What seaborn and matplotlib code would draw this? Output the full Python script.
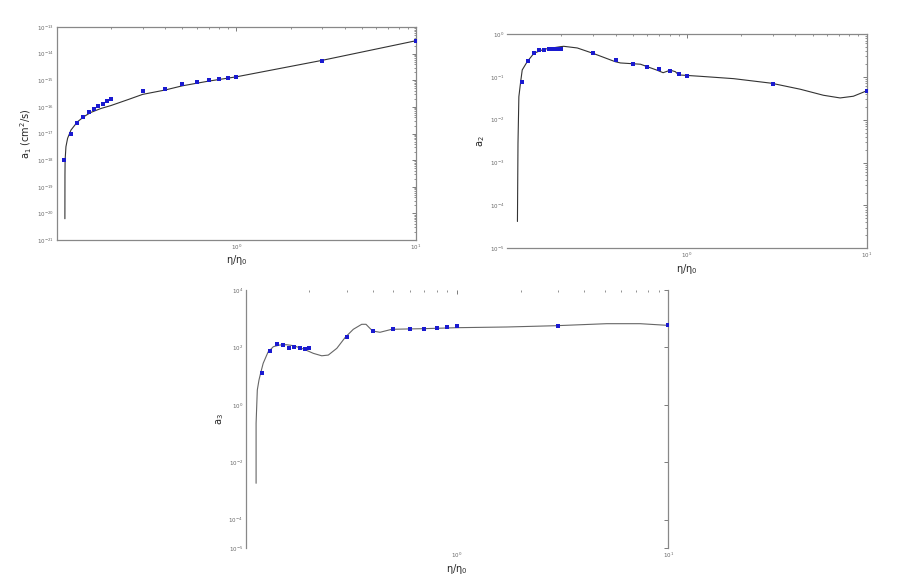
import numpy as np
import pandas as pd
import matplotlib
matplotlib.use("Agg")
import matplotlib.pyplot as plt
import seaborn as sns

# measured points (eta / eta0)
eta_a1 = [0.11, 0.12, 0.13, 0.14, 0.15, 0.16, 0.17, 0.18, 0.19, 0.20,
          0.3, 0.4, 0.5, 0.6, 0.7, 0.8, 0.9, 1.0, 3.0, 10.0]
a1_pts = [1.0e-18, 9.5e-18, 2.4e-17, 4.3e-17, 6.6e-17, 8.7e-17, 1.12e-16, 1.26e-16, 1.7e-16, 2.0e-16,
          3.8e-16, 4.9e-16, 7.1e-16, 8.9e-16, 1.0e-15, 1.15e-15, 1.26e-15, 1.38e-15, 5.5e-15, 3.0e-14]

eta_pts = [0.12, 0.13, 0.14, 0.15, 0.16, 0.17, 0.18, 0.19, 0.20,
           0.3, 0.4, 0.5, 0.6, 0.7, 0.8, 0.9, 1.0, 3.0, 10.0]
a2_pts = [0.076, 0.231, 0.367, 0.424, 0.424, 0.44, 0.44, 0.455, 0.44,
          0.355, 0.243, 0.203, 0.170, 0.150, 0.137, 0.117, 0.107, 0.0695, 0.0461]
a3_pts = [13.2, 75, 128, 121, 98, 100, 95.5, 90, 95.5,
          225, 382, 427, 449, 449, 474, 501, 543, 557, 589]

# fitted curves
eta_c1 = [0.1107, 0.1108, 0.111, 0.1122, 0.1146, 0.1197, 0.130, 0.142, 0.1545, 0.1756,
          0.1995, 0.25, 0.3, 0.4, 0.5, 0.7, 1.0, 3.0, 9.87]
a1_c = [6.3e-21, 2.8e-19, 1.0e-18, 3.2e-18, 6.6e-18, 1.35e-17, 2.75e-17, 4.4e-17, 6.2e-17, 8.7e-17,
        1.12e-16, 1.9e-16, 2.95e-16, 4.3e-16, 6.2e-16, 9.3e-16, 1.35e-15, 5.6e-15, 3.0e-14]

eta_c2 = [0.1138, 0.1146, 0.1159, 0.1186, 0.121, 0.129, 0.1406, 0.1596, 0.1977, 0.206,
          0.245, 0.299, 0.398, 0.426, 0.551, 0.6, 0.681, 0.736, 0.807, 0.861,
          0.898, 1.186, 1.816, 2.95, 4.27, 5.74, 7.11, 8.43, 9.86]
a2_c = [4.22e-5, 2.83e-3, 0.0345, 0.0773, 0.145, 0.226, 0.355, 0.44, 0.506, 0.516,
        0.472, 0.355, 0.226, 0.211, 0.197, 0.173, 0.143, 0.125, 0.143, 0.132,
        0.111, 0.103, 0.0908, 0.071, 0.0514, 0.0372, 0.0322, 0.0353, 0.0461]

eta_c3 = [0.112, 0.112, 0.1135, 0.1156, 0.1178, 0.121, 0.1276, 0.1352, 0.145, 0.156,
          0.168, 0.1875, 0.209, 0.229, 0.246, 0.27, 0.296, 0.323, 0.354, 0.371,
          0.387, 0.399, 0.432, 0.491, 0.578, 0.693, 0.997, 1.72, 2.94, 5.11,
          7.35, 9.82]
a3_c = [1.84e-3, 0.226, 3.28, 7.31, 13.1, 27.9, 69, 106, 121, 124,
        115, 88, 62, 51, 54, 93, 225, 427, 638, 638,
        463, 372, 336, 427, 438, 449, 486, 514, 570, 670,
        670, 589]

x_ticks = [1, 10]
y_ticks_a1 = [1e-21, 1e-20, 1e-19, 1e-18, 1e-17, 1e-16, 1e-15, 1e-14, 1e-13]
y_ticks_a2 = [1e-5, 1e-4, 1e-3, 1e-2, 1e-1, 1e0]
y_ticks_a3 = [1e-5, 1e-4, 1e-2, 1e0, 1e2, 1e4]

panels = [
    dict(rect=[0.0624, 0.5862, 0.3932, 0.3672], ex=eta_a1, ey=a1_pts, cx=eta_c1, cy=a1_c,
         ylim=(1e-21, 1e-13), yt=y_ticks_a1, ylabel=r"a$_1$ (cm$^2$/s)", hide=[], lc="#333333"),
    dict(rect=[0.5557, 0.5719, 0.3936, 0.3695], ex=eta_pts, ey=a2_pts, cx=eta_c2, cy=a2_c,
         ylim=(1e-5, 1e0), yt=y_ticks_a2, ylabel=r"a$_2$", hide=["left"], lc="#333333"),
    dict(rect=[0.2691, 0.0547, 0.4629, 0.4453], ex=eta_pts, ey=a3_pts, cx=eta_c3, cy=a3_c,
         ylim=(1e-5, 1e4), yt=y_ticks_a3, ylabel=r"a$_3$", hide=["top", "bottom"], lc="#666666"),
]

sns.set_theme(style="white")
plt.rcParams["font.family"] = ["DejaVu Sans"]

fig = plt.figure(figsize=(9.13, 5.8), dpi=100)

for p in panels:
    ax = fig.add_axes(p["rect"])
    curve = pd.DataFrame({"eta": p["cx"], "a": p["cy"]})
    pts = pd.DataFrame({"eta": p["ex"], "a": p["ey"]})
    sns.lineplot(data=curve, x="eta", y="a", ax=ax, sort=False, estimator=None,
                 color=p["lc"], lw=0.8)
    sns.scatterplot(data=pts, x="eta", y="a", ax=ax, color="#1a1ad0", marker="s",
                    s=6, linewidth=0, zorder=3)
    ax.set_xscale("log")
    ax.set_yscale("log")
    ax.set_xlim(0.1, 10)
    ax.set_ylim(*p["ylim"])
    ax.set_xticks(x_ticks)
    ax.set_yticks(p["yt"])
    ax.set_xlabel("η/η$_0$", fontsize=7, labelpad=1)
    ax.set_ylabel(p["ylabel"], fontsize=7, labelpad=2)
    ax.tick_params(which="both", direction="in", top=True, right=True,
                   labelsize=4, colors="#666666", pad=2)
    ax.tick_params(which="major", length=3, width=0.6)
    ax.tick_params(which="minor", length=1.5, width=0.5)
    for s in ax.spines.values():
        s.set_color("#888888")
        s.set_linewidth(0.9)
    for s in p["hide"]:
        ax.spines[s].set_visible(False)

fig.savefig("out.png", dpi=100)
